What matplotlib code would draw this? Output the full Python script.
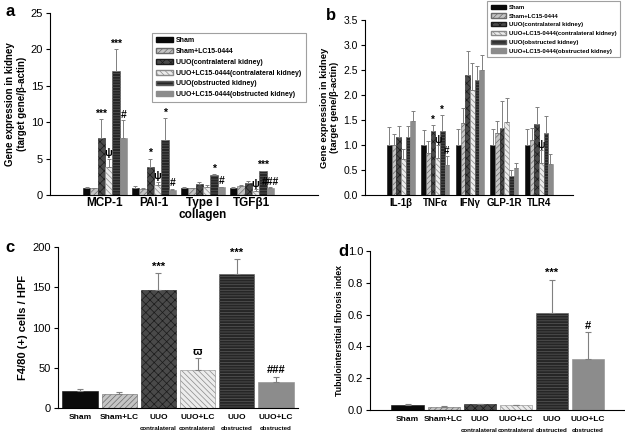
import numpy as np
import matplotlib
matplotlib.use("Agg")
import matplotlib.pyplot as plt

plt.rcParams['font.family'] = ['Liberation Sans', 'DejaVu Sans']
plt.rcParams['hatch.linewidth'] = 0.5

# ---- data ----
groups = ["Sham", "Sham+LC15-0444", "UUO(contralateral kidney)",
          "UUO+LC15-0444(contralateral kidney)", "UUO(obstructed kidney)",
          "UUO+LC15-0444(obstructed kidney)"]

genes_a = ["MCP-1", "PAI-1", "Type I\ncollagen", "TGFβ1"]
mean_a = [[1.0, 1.0, 1.0, 1.0],
          [0.95, 0.85, 0.9, 1.2],
          [7.8, 3.9, 1.5, 1.6],
          [3.8, 1.4, 1.1, 0.6],
          [17.0, 7.6, 2.7, 3.3],
          [7.8, 0.7, 1.1, 1.0]]
err_a = [[0.1, 0.3, 0.1, 0.1],
         [0.05, 0.15, 0.1, 0.2],
         [2.6, 1.1, 0.3, 0.3],
         [1.2, 0.4, 0.3, 0.2],
         [3.0, 3.0, 0.2, 0.05],
         [2.5, 0.15, 0.05, 0.05]]
marks_a = {(2, 0): "***", (3, 0): "ψ", (4, 0): "***", (5, 0): "#",
           (2, 1): "*", (3, 1): "ψ", (4, 1): "*", (5, 1): "#",
           (4, 2): "*", (5, 2): "#",
           (3, 3): "ψ", (4, 3): "***", (5, 3): "###"}

genes_b = ["IL-1β", "TNFα", "IFNγ", "GLP-1R", "TLR4"]
mean_b = [[1.0, 1.0, 1.0, 1.0, 1.0],
          [1.0, 0.85, 1.44, 1.25, 1.1],
          [1.17, 1.28, 2.41, 1.35, 1.43],
          [0.73, 0.75, 2.11, 1.46, 0.64],
          [1.17, 1.28, 2.31, 0.39, 1.25],
          [1.48, 0.61, 2.5, 0.54, 0.63]]
err_b = [[0.37, 0.3, 0.32, 0.33, 0.32],
         [0.23, 0.24, 0.31, 0.23, 0.24],
         [0.22, 0.12, 0.48, 0.54, 0.33],
         [0.2, 0.25, 0.54, 0.48, 0.26],
         [0.22, 0.32, 0.28, 0.11, 0.33],
         [0.21, 0.17, 0.3, 0.1, 0.2]]
marks_b = {(2, 1): "*", (3, 1): "ψ", (4, 1): "*", (5, 1): "#", (3, 4): "ψ"}

names_cd = ["Sham", "Sham+LC", "UUO", "UUO+LC", "UUO", "UUO+LC"]
sub_cd = ["", "", "contralateral", "contralateral", "obstructed", "obstructed"]
mean_c = [21, 17, 146, 47, 166, 32]
err_c = [2, 3, 22, 15, 19, 7]
marks_c = ["", "", "***", "ϖ", "***", "###"]
mean_d = [0.03, 0.02, 0.035, 0.03, 0.61, 0.32]
err_d = [0.005, 0.005, 0.005, 0.003, 0.21, 0.17]
marks_d = ["", "", "", "", "***", "#"]

# ---- bar styles ----
styles = [
    dict(facecolor="#0a0a0a", edgecolor="#0a0a0a", hatch=None),
    dict(facecolor="#c4c4c4", edgecolor="#6a6a6a", hatch="//////"),
    dict(facecolor="#4a4a4a", edgecolor="#1a1a1a", hatch="xxxx"),
    dict(facecolor="#ececec", edgecolor="#8a8a8a", hatch="\\\\\\\\\\\\"),
    dict(facecolor="#262626", edgecolor="#5a5a5a", hatch="------"),
    dict(facecolor="#8c8c8c", edgecolor="#8c8c8c", hatch=None),
]

fig = plt.figure(figsize=(6.25, 4.34), dpi=100)


def px(l, t, r, b):
    return [l / 625, 1 - b / 434, (r - l) / 625, (b - t) / 434]


def style_axes(ax, ysize, xpad):
    ax.spines['top'].set_visible(False)
    ax.spines['right'].set_visible(False)
    ax.spines['left'].set_linewidth(0.8)
    ax.spines['bottom'].set_linewidth(0.8)
    ax.tick_params(axis='y', labelsize=ysize, length=3, width=0.8, pad=2)
    ax.tick_params(axis='x', length=0, pad=xpad)


def grouped(ax, cats, means, errs, marks, width, mark_size, xsize):
    x = np.arange(len(cats))
    n = len(means)
    for i in range(n):
        pos = x + (i - (n - 1) / 2) * width
        st = styles[i]
        ax.bar(pos, means[i], width, facecolor=st["facecolor"],
               edgecolor=st["edgecolor"], hatch=st["hatch"], linewidth=0.4)
        ax.errorbar(pos, means[i], yerr=[np.zeros(len(cats)), errs[i]],
                    fmt='none', ecolor="#808080", elinewidth=0.7,
                    capsize=1.3, capthick=0.7)
    for (i, j), s in marks.items():
        pos = x[j] + (i - (n - 1) / 2) * width
        top = means[i][j] + errs[i][j]
        ax.annotate(s, (pos, top), xytext=(0, 0.3), textcoords="offset points",
                    ha="center", va="bottom", fontsize=mark_size,
                    fontweight="bold")
    ax.set_xticks(x)
    ax.set_xticklabels(cats, fontweight="bold", fontsize=xsize, linespacing=0.95)


def make_legend(anchor, size, spacing, hlen):
    leg = fig.legend([plt.Rectangle((0, 0), 1, 1, **styles[i]) for i in range(6)],
                     groups, loc="upper left", bbox_to_anchor=anchor,
                     prop=dict(size=size, weight="bold"), frameon=True,
                     fancybox=False, handlelength=hlen, handleheight=0.7,
                     labelspacing=spacing, borderpad=0.6, handletextpad=0.5,
                     borderaxespad=0)
    leg.get_frame().set_edgecolor("#888888")
    leg.get_frame().set_linewidth(0.8)
    return leg


# ---- panel a ----
ax_a = fig.add_axes(px(50, 13, 318, 195))
grouped(ax_a, genes_a, mean_a, err_a, marks_a, 0.15, 7.5, 8.5)
ax_a.set_xlim(-1.12, 4.35)
ax_a.set_ylim(0, 25)
ax_a.set_yticks([0, 5, 10, 15, 20, 25])
ax_a.set_ylabel("Gene expression in kidney\n(target gene/β-actin)",
                fontweight="bold", fontsize=7, labelpad=3)
style_axes(ax_a, 8, 1.5)
make_legend((152 / 625, 1 - 33 / 434), 5.0, 0.55, 2.4)
fig.text(5 / 625, 1 - 12 / 434, "a", fontsize=12, fontweight="bold", va="center")

# ---- panel b ----
ax_b = fig.add_axes(px(365, 20, 573, 195))
grouped(ax_b, genes_b, mean_b, err_b, marks_b, 0.135, 7, 7)
ax_b.set_xlim(-1.04, 4.99)
ax_b.set_ylim(0, 3.5)
ax_b.set_yticks(np.arange(0, 3.51, 0.5))
ax_b.set_yticklabels([f"{v:.1f}" for v in np.arange(0, 3.51, 0.5)])
ax_b.set_ylabel("Gene expression in kidney\n(target gene/β-actin)",
                fontweight="bold", fontsize=6.8, labelpad=3)
style_axes(ax_b, 7.5, 2)
make_legend((487 / 625, 1 - 1 / 434), 4.3, 0.6, 2.6)
fig.text(326 / 625, 1 - 15 / 434, "b", fontsize=12, fontweight="bold", va="center")


def single(ax, means, errs, marks, width, mark_size):
    x = np.arange(len(means))
    for i in range(len(means)):
        st = styles[i]
        ax.bar(x[i], means[i], width, facecolor=st["facecolor"],
               edgecolor=st["edgecolor"], hatch=st["hatch"], linewidth=0.4)
    ax.errorbar(x, means, yerr=[np.zeros(len(means)), errs], fmt='none',
                ecolor="#808080", elinewidth=0.8, capsize=2, capthick=0.8)
    for i, s in enumerate(marks):
        if s:
            ax.annotate(s, (x[i], means[i] + errs[i]), xytext=(0, 1),
                        textcoords="offset points", ha="center", va="bottom",
                        fontsize=mark_size, fontweight="bold")
    ax.set_xticks(x)
    ax.set_xticklabels(names_cd, fontweight="bold", fontsize=6)
    for i, s in enumerate(sub_cd):
        if s:
            ax.annotate(s, (x[i], 0), xycoords=("data", "axes fraction"),
                        xytext=(0, -14.5), textcoords="offset points",
                        ha="center", va="center", fontsize=4.4,
                        fontweight="bold")


# ---- panel c ----
ax_c = fig.add_axes(px(58, 247, 298, 408))
single(ax_c, mean_c, err_c, marks_c, 0.9, 8)
ax_c.set_xlim(-0.56, 5.56)
ax_c.set_ylim(0, 200)
ax_c.set_yticks([0, 50, 100, 150, 200])
ax_c.set_ylabel("F4/80 (+) cells / HPF", fontweight="bold", fontsize=8,
                labelpad=3)
style_axes(ax_c, 8, 4)
fig.text(5 / 625, 1 - 248 / 434, "c", fontsize=12, fontweight="bold", va="center")

# ---- panel d ----
ax_d = fig.add_axes(px(370, 251, 624, 410))
single(ax_d, mean_d, err_d, marks_d, 0.89, 8)
ax_d.set_xlim(-1.04, 6.0)
ax_d.set_ylim(0, 1.0)
ax_d.set_yticks(np.arange(0, 1.01, 0.2))
ax_d.set_yticklabels([f"{v:.1f}" for v in np.arange(0, 1.01, 0.2)])
ax_d.set_ylabel("Tubulointerstitial fibrosis index", fontweight="bold",
                fontsize=6.3, labelpad=3)
style_axes(ax_d, 8, 4)
fig.text(338 / 625, 1 - 251 / 434, "d", fontsize=12, fontweight="bold", va="center")

fig.savefig("out.png", dpi=100)
